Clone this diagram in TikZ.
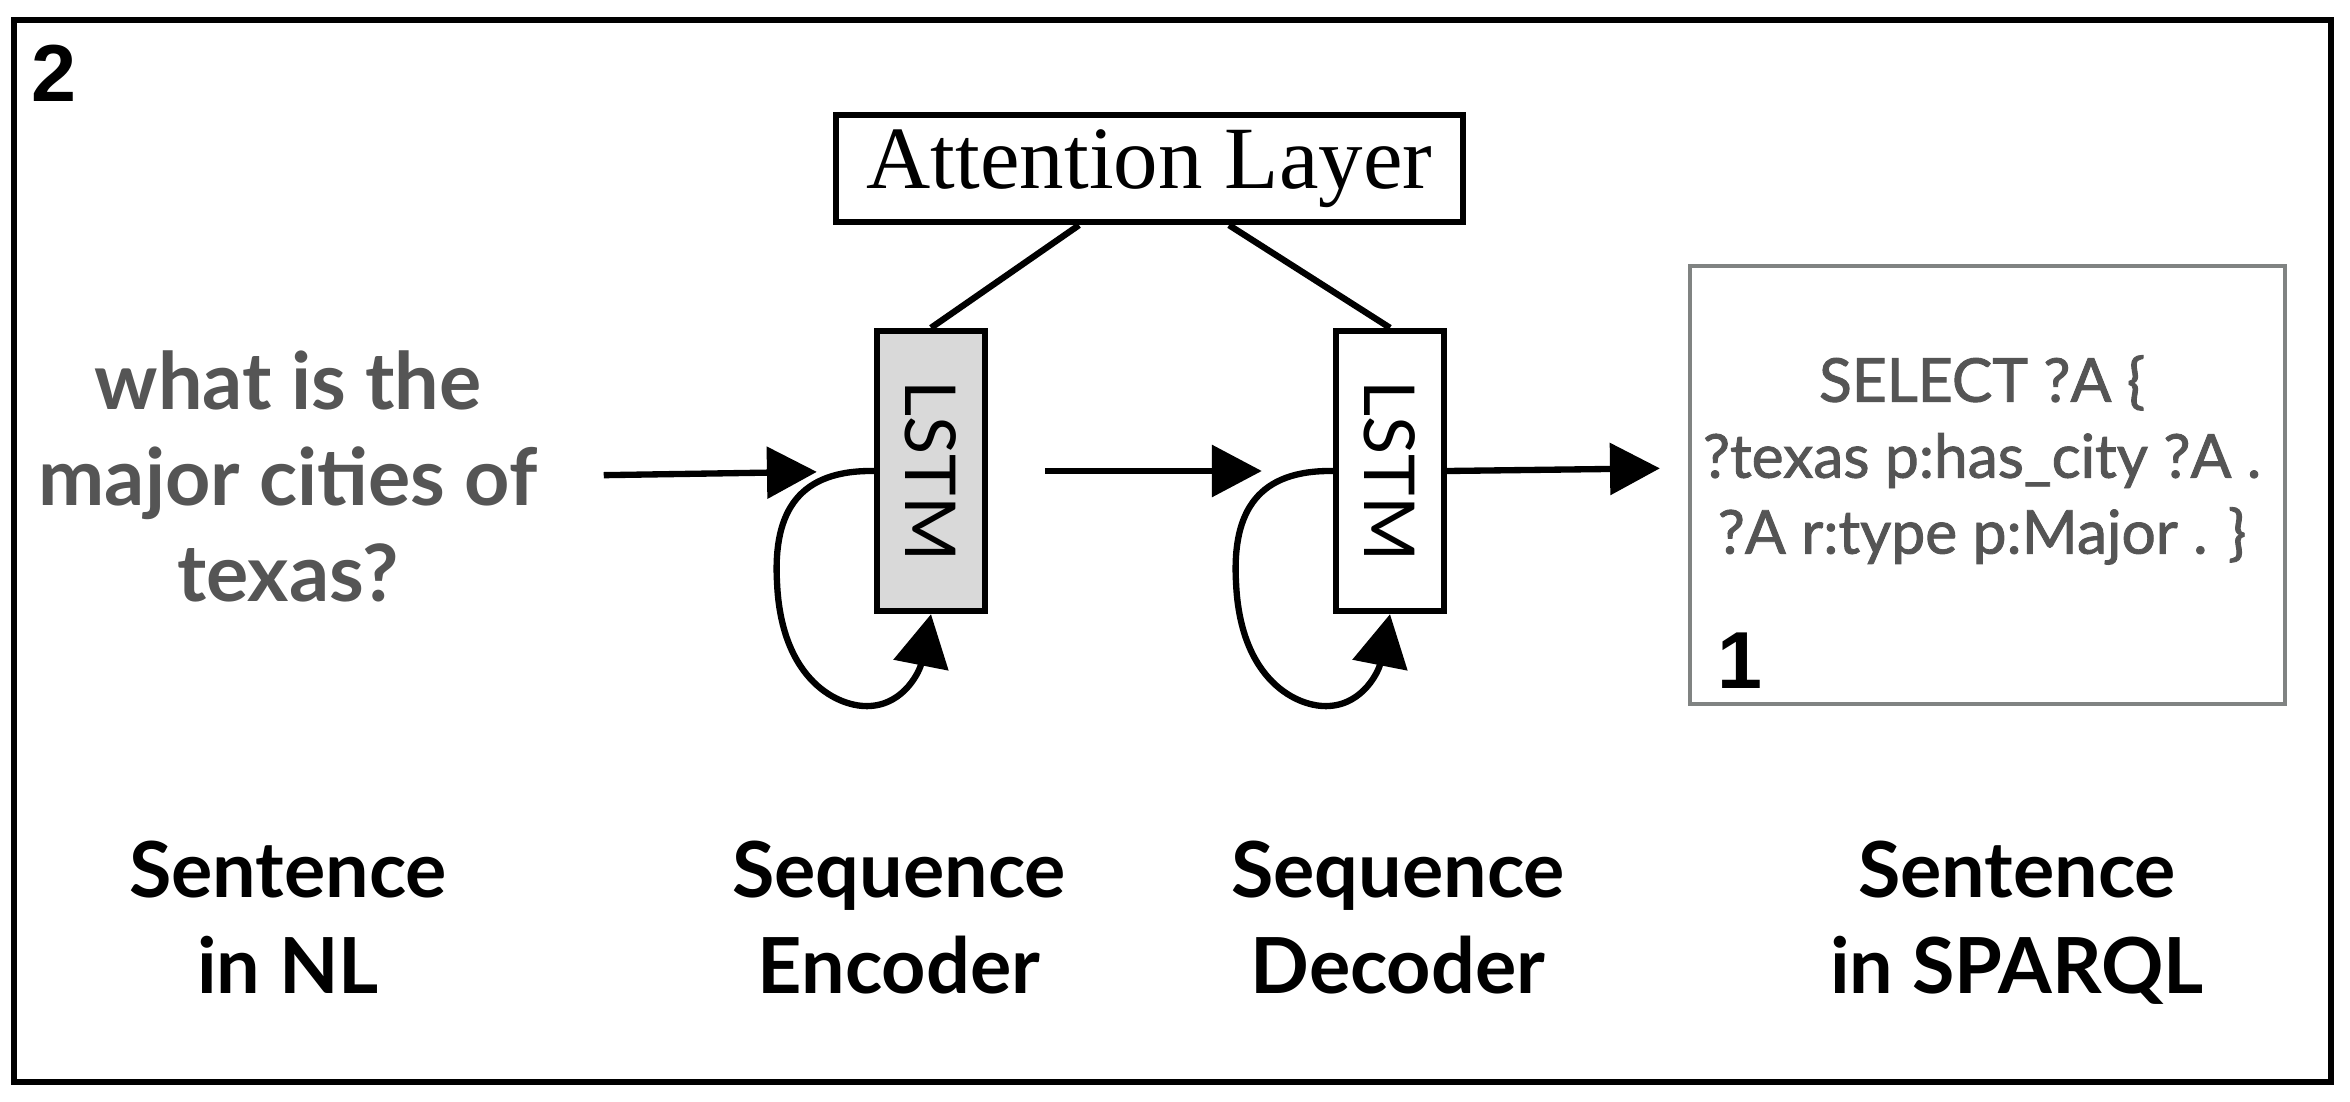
\documentclass[tikz,border=0pt]{standalone}
\usepackage{fontspec}
\usepackage{graphicx}
\usetikzlibrary{arrows.meta}
\newfontfamily\lato{Lato}
\newfontfamily\latomed[FakeBold=1.5]{Lato}
\newfontfamily\libsans{Liberation Sans}
\newfontfamily\libserif{Liberation Serif}
\definecolor{txtgray}{RGB}{85,85,85}
\definecolor{boxgray}{RGB}{128,131,130}
\definecolor{lstmfill}{RGB}{217,217,217}
\newcommand\lstmloop[1]{%
  \begin{scope}[shift={(#1.center)}]
    \draw[conn,looparr] (#1.west) .. controls (-131,-1) and (-158,39) .. (-154,111)
      .. controls (-150,211) and (-91,237) .. (-61,235)
      .. controls (-26,233) and (-11,199) .. (#1.south);
  \end{scope}}
\begin{document}
\begin{tikzpicture}[x=0.1mm,y=-0.1mm,
  frame/.style={draw=black,line width=1.55pt,minimum width=231.7mm,minimum height=106.2mm,inner sep=0pt},
  box/.style={draw=black,line width=1.8pt,inner sep=0pt},
  lstm/.style={box,minimum width=10.8mm,minimum height=28mm,font=\lato\fontsize{20}{24}\selectfont},
  conn/.style={line width=1.8pt},
  arr/.style={-{Triangle[length=14.2pt,width=14.5pt]}},
  looparr/.style={-{Triangle[length=14.8pt,width=15.6pt]}},
  qtext/.style={align=center,text=txtgray,font=\lato\bfseries\fontsize{22.5}{27.3}\selectfont},
  lbl/.style={align=center,anchor=north,text=black,font=\lato\bfseries\fontsize{22}{27.3}\selectfont},
  sparql/.style={align=center,text=txtgray,font=\latomed\fontsize{17.2}{21.6}\selectfont},
  num/.style={font=\libsans\bfseries\fontsize{23}{27}\selectfont,inner sep=0pt}
]
\fill[white] (0,0) rectangle (2350,1102);
\useasboundingbox (0,0) rectangle (2350,1102);
\node[frame] (frame) at (1172.5,551) {};
\node[num] (n2) at (54,73) {2};

\node[qtext] (q) at (288,476) {what is the\\major cities of\\texas?};

\node[box,minimum width=62.7mm,minimum height=10.7mm,font=\libserif\fontsize{25.3}{30}\selectfont] (att) at (1149.5,168.5) {\raisebox{-0.4mm}{Attention Layer}};

\node[lstm,fill=lstmfill] (enc) at (931,471) {\rotatebox{-90}{LSTM}};
\node[lstm,fill=white] (dec) at (1390,471) {\rotatebox{-90}{LSTM}};

\node[draw=boxgray,line width=1.2pt,minimum width=59.5mm,minimum height=43.8mm,inner sep=0pt] (sq) at (1987.5,485) {};
\node[sparql] (sqtext) at (1982,460) {SELECT ?A \{\\?texas p:has\_city ?A .\\?A r:type p:Major . \}};
\node[num] (n1) at (1740,661) {1};

\draw[conn] ([xshift=-7.05mm]att.south) -- (enc.north);
\draw[conn] ([xshift=7.95mm]att.south) -- (dec.north);

\draw[conn,arr,shorten <=5.4mm,shorten >=5.7mm] (q.east) -- (enc.west);
\draw[conn,arr,shorten <=5.7mm,shorten >=7.1mm] (enc.east) -- (dec.west);
\draw[conn,arr,shorten >=2.8mm] (dec.east) -- ([yshift=0.3mm]dec.east -| sq.west);

\lstmloop{enc}
\lstmloop{dec}

\node[lbl] (l1) at (288,828.5) {Sentence\\in NL};
\node[lbl] (l2) at (899,828.5) {Sequence\\Encoder};
\node[lbl] (l3) at (1398,828.5) {Sequence\\Decoder};
\node[lbl] (l4) at (2017,828.5) {Sentence\\in SPARQL};
\end{tikzpicture}
\end{document}
